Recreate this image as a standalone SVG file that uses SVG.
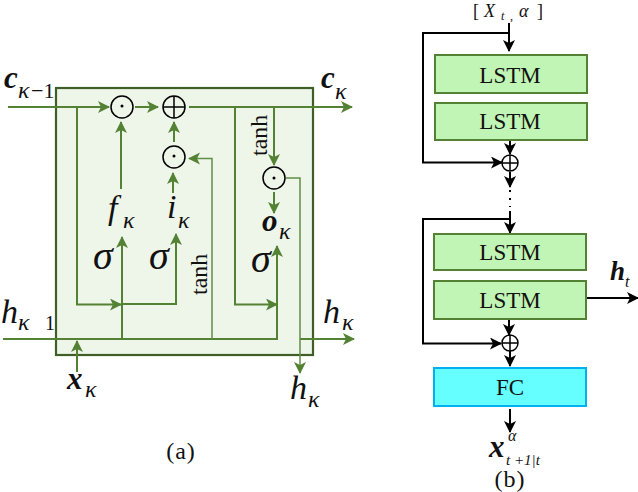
<svg xmlns="http://www.w3.org/2000/svg" width="638" height="492" viewBox="0 0 638 492">
<style>
text{font-family:"Liberation Serif","DejaVu Serif",serif;fill:#111}
.g{fill:none;stroke:#548235;stroke-width:2}
.t{fill:none;stroke:#5f8f45;stroke-width:1.5}
.k{fill:none;stroke:#000;stroke-width:2}
.c{fill:none;stroke:#000;stroke-width:1.5}
.lstm rect{fill:#c1f5b5;stroke:#548235;stroke-width:2}
.fc rect{fill:#66ffff;stroke:#00b0f0;stroke-width:2}
.bl{font-size:23px;text-anchor:middle}
.m{font-size:34px;font-style:italic}
.b{font-weight:bold;font-style:italic;font-size:31px}
.s{font-size:24px;font-style:italic}
.sig{font-size:40px;font-style:italic}
.tn{font-size:24px}
.cap{font-size:24px;text-anchor:middle;letter-spacing:1px}
</style>
<defs>
<marker id="ag" markerUnits="userSpaceOnUse" markerWidth="14" markerHeight="14" refX="11" refY="6" orient="auto"><path d="M0 0L12 6L0 12L3 6Z" fill="#548235"/></marker>
<marker id="ak" markerUnits="userSpaceOnUse" markerWidth="14" markerHeight="14" refX="11" refY="6" orient="auto"><path d="M0 0L12 6L0 12L3 6Z" fill="#000"/></marker>
</defs>
<g id="cell"><rect x="56" y="88" width="257" height="267" fill="#eef5e9" stroke="#3f5f27" stroke-width="2.2"/></g>
<g id="connectors">
<g class="g">
<path d="M8 107H109" marker-end="url(#ag)"/>
<path d="M135 107H158" marker-end="url(#ag)"/>
<path d="M189 107H352" marker-end="url(#ag)"/>
<path d="M77 107V304.500H121" marker-end="url(#ag)"/>
<path d="M122 339V237" marker-end="url(#ag)"/>
<path d="M121 189V122" marker-end="url(#ag)"/>
<path d="M174 142V122" marker-end="url(#ag)"/>
<path d="M173 193V173" marker-end="url(#ag)"/>
<path d="M122 304H176V234" marker-end="url(#ag)"/>
<path d="M3 339H277V246" marker-end="url(#ag)"/>
<path d="M235 107V304.500H277" marker-end="url(#ag)"/>
<path d="M274 107V165" marker-end="url(#ag)"/>
<path d="M274 192V213" marker-end="url(#ag)"/>
<path d="M300 339H354" marker-end="url(#ag)"/>
<path d="M77 372V341" marker-end="url(#ag)"/>
</g>
<path class="t" d="M212 339V158.500H189" marker-end="url(#ag)"/>
<path class="t" d="M286 178H300V373" marker-end="url(#ag)"/>
<g class="k">
<path d="M509 23V51" marker-end="url(#ak)"/>
<path d="M509 33H423V162.500H502" marker-end="url(#ak)"/>
<path d="M510 140V154" marker-end="url(#ak)"/>
<path d="M510 172V187" marker-end="url(#ak)"/>
<path d="M510 190V207" stroke-dasharray="2 6"/>
<path d="M510 211V233" marker-end="url(#ak)"/>
<path d="M510 219H423V343.500H501" marker-end="url(#ak)"/>
<path d="M509 320V335" marker-end="url(#ak)"/>
<path d="M510 351V366" marker-end="url(#ak)"/>
<path d="M510 409V432" marker-end="url(#ak)"/>
<path d="M587 298H638" marker-end="url(#ak)"/>
</g>
</g>
<g id="op1"><circle class="c" cx="122" cy="107" r="11"/><circle cx="122" cy="106" r="1.500"/></g>
<g id="op2"><circle class="c" cx="174" cy="107" r="11"/><path class="c" d="M163 107H185M174 96V118"/></g>
<g id="op3"><circle class="c" cx="174" cy="157" r="11"/><circle cx="174" cy="156" r="1.500"/></g>
<g id="op4"><circle class="c" cx="274" cy="178" r="11"/><circle cx="274" cy="178" r="1.500"/></g>
<g id="lab-c0"><text class="b" x="4" y="88">c</text><text class="s" x="18" y="98">κ</text><text font-size="22" x="31" y="98">−1</text></g>
<g id="lab-c1"><text class="b" x="321" y="88">c</text><text class="s" x="335" y="99">κ</text></g>
<g id="lab-f"><text class="m" x="108" y="219">f</text><text class="s" x="123" y="228">κ</text></g>
<g id="lab-i"><text class="m" x="167" y="218">i</text><text class="s" x="178" y="228">κ</text></g>
<g id="lab-o"><text class="b" x="262" y="231">o</text><text class="s" x="279" y="239">κ</text></g>
<g id="lab-s1"><text class="sig" x="93" y="269">σ</text></g>
<g id="lab-s2"><text class="sig" x="149" y="269">σ</text></g>
<g id="lab-s3"><text class="sig" x="251" y="272">σ</text></g>
<g id="lab-tanh1"><text class="tn" transform="rotate(-90 207 295)" x="207" y="295">tanh</text></g>
<g id="lab-tanh2"><text class="tn" transform="rotate(-90 267 156)" x="267" y="156">tanh</text></g>
<g id="lab-h0"><text class="m" x="1" y="323">h</text><text class="s" x="18" y="330">κ</text><text font-size="20" x="45" y="330">1</text></g>
<g id="lab-h1"><text class="m" x="323" y="323">h</text><text class="s" x="342" y="330">κ</text></g>
<g id="lab-h2"><text class="m" x="290" y="399">h</text><text class="s" x="308" y="407">κ</text></g>
<g id="lab-x"><text class="b" x="67" y="389">x</text><text class="s" x="85" y="397">κ</text></g>
<g id="cap-a"><text class="cap" x="181" y="459">(a)</text></g>
<g id="lab-in"><text x="473" y="17" font-size="18">[</text><text x="484" y="17" font-size="18" font-style="italic">X</text><text x="501" y="20" font-size="12" font-style="italic">t</text><text x="510" y="20" font-size="12">,</text><text x="519" y="17" font-size="18" font-style="italic">α</text><text x="537" y="17" font-size="18">]</text></g>
<g id="lstm1" class="lstm"><rect x="435" y="55" width="152" height="38"/><text class="bl" x="510" y="83">LSTM</text></g>
<g id="lstm2" class="lstm"><rect x="435" y="103" width="152" height="37"/><text class="bl" x="510" y="129">LSTM</text></g>
<g id="sum1"><circle class="c" cx="510" cy="163" r="8"/><path class="c" d="M502 163H518M510 155V171"/></g>
<g id="lstm3" class="lstm"><rect x="434" y="234" width="152" height="36"/><text class="bl" x="510" y="260">LSTM</text></g>
<g id="lstm4" class="lstm"><rect x="434" y="281" width="152" height="38"/><text class="bl" x="510" y="308">LSTM</text></g>
<g id="sum2"><circle class="c" cx="510" cy="343" r="8"/><path class="c" d="M502 343H518M510 335V351"/></g>
<g id="fc" class="fc"><rect x="434" y="368" width="152" height="38"/><text class="bl" x="510" y="395">FC</text></g>
<g id="lab-ht"><text x="610" y="280" font-size="27" font-style="italic" font-weight="bold">h</text><text font-size="16" font-style="italic" x="625" y="287">t</text></g>
<g id="lab-xt"><text class="b" x="489" y="457" font-size="26">x</text><text font-size="16" font-style="italic" x="508" y="441">α</text><text font-size="15" font-style="italic" x="506" y="465">t +1|t</text></g>
<g id="cap-b"><text class="cap" x="510" y="487">(b)</text></g>
</svg>
